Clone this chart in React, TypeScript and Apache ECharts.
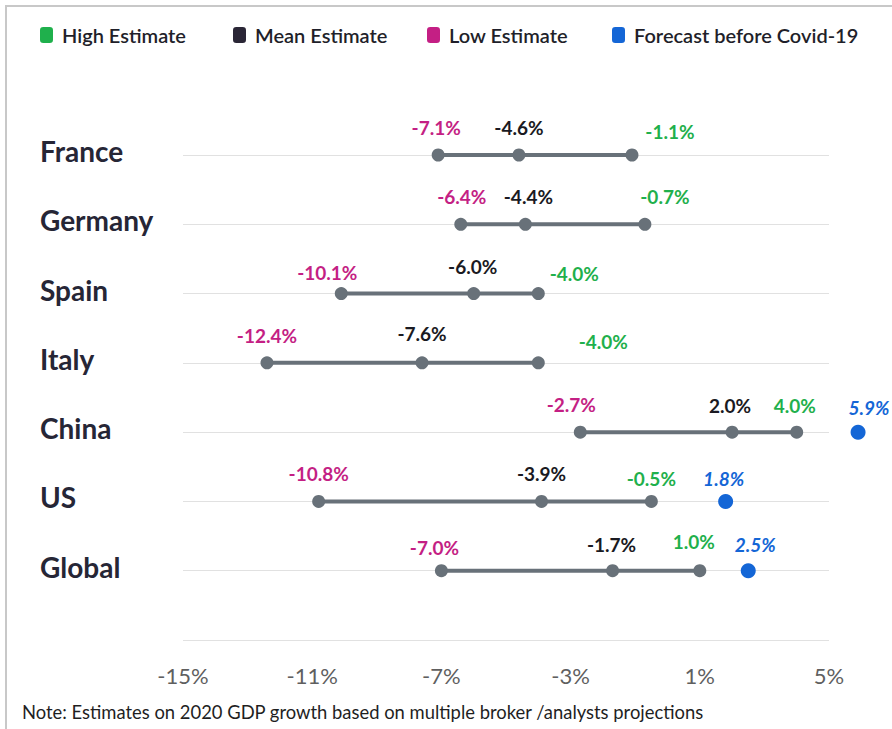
import React, { useEffect, useRef } from "react";
import * as echarts from "echarts";

const categories = ["", "Global", "US", "China", "Italy", "Spain", "Germany", "France"];
const lowValues: (number | null)[] = [null, -7.0, -10.8, -2.7, -12.4, -10.1, -6.4, -7.1];
const meanValues: (number | null)[] = [null, -1.7, -3.9, 2.0, -7.6, -6.0, -4.4, -4.6];
const highValues: (number | null)[] = [null, 1.0, -0.5, 4.0, -4.0, -4.0, -0.7, -1.1];
const forecastValues: (number | null)[] = [null, 2.5, 1.8, 5.9, null, null, null, null];
const xTicks = [-15, -11, -7, -3, 1, 5];
const seriesNames = ["High Estimate", "Mean Estimate", "Low Estimate", "Forecast before Covid-19"];
const note = "Note: Estimates on 2020 GDP growth based on multiple broker /analysts projections";

// label offsets (layout only)
const lowOffsets: number[][] = [[0, 0], [-7, -23], [0, -28], [-9, -28], [0, -27], [-14, -21], [1, -28], [-2, -28]];
const meanOffsets: number[][] = [[0, 0], [-1, -26], [0, -28], [-2, -27], [0, -29], [-1, -27], [3, -28], [0, -28]];
const highOffsets: number[][] = [[0, 0], [-6, -29], [0, -23], [-2, -27], [65, -21], [36, -20], [20, -28], [38, -24]];
const fcOffsets: number[][] = [[0, 0], [7, -26], [-2, -23], [11, -25], [0, 0], [0, 0], [0, 0], [0, 0]];
const legendLefts = [35, 228, 422, 607];

const FONT = "Lato, 'Open Sans', sans-serif";
const GRAY = "#687179";
const C_HIGH = "#1fb04c";
const C_MEAN = "#1a1a22";
const C_LOW = "#c41f84";
const C_FC = "#1466d6";
const legendColors = [C_HIGH, "#2a2636", C_LOW, C_FC];

function pointSeries(name: string, values: (number | null)[], offsets: number[][], color: string, dotColor: string, size: number, italic = false) {
  const data: any[] = [];
  values.forEach((v, i) => {
    if (v === null) return;
    data.push({
      value: [v, categories[i]],
      label: { offset: offsets[i] },
    });
  });
  return {
    name,
    type: "scatter",
    clip: false,
    symbol: "circle",
    symbolSize: size,
    z: 5,
    itemStyle: { color: dotColor, opacity: 1 },
    label: {
      show: true,
      position: "inside",
      align: "center",
      verticalAlign: "middle",
      formatter: (p: any) => p.value[0].toFixed(1) + "%",
      color,
      fontFamily: FONT,
      fontSize: 19,
      fontWeight: "bold",
      fontStyle: italic ? "italic" : "normal",
    },
    emphasis: { disabled: true },
    data,
  };
}

export default function App() {
  const ref = useRef<HTMLDivElement>(null);
  useEffect(() => {
    if (!ref.current) return;
    const chart = echarts.init(ref.current, null, { renderer: "svg" });
    const rangeData: any[] = [];
    categories.forEach((c, i) => {
      if (lowValues[i] !== null && highValues[i] !== null) rangeData.push([lowValues[i], highValues[i], c]);
    });
    chart.setOption({
      animation: false,
      backgroundColor: "#ffffff",
      textStyle: { fontFamily: FONT },
      legend: seriesNames.map((n, i) => ({
        left: legendLefts[i],
        top: 20,
        itemWidth: 13,
        itemHeight: 16,
        itemGap: 0,
        icon: "roundRect",
        selectedMode: false,
        textStyle: { fontFamily: FONT, fontSize: 20, fontWeight: 600, color: "#1f1f2a", padding: [0, 0, 0, 4] },
        data: [{ name: n, itemStyle: { color: legendColors[i] } }],
      })),
      grid: { left: 183, right: 63, top: 155, bottom: 89, containLabel: false },
      xAxis: {
        type: "value",
        min: -15,
        max: 5,
        axisLine: { show: false },
        axisTick: { show: false },
        splitLine: { show: false },
        axisLabel: {
          customValues: xTicks,
          formatter: (v: number) => v + "%",
          margin: 24,
          fontFamily: FONT,
          fontSize: 22,
          color: "#5f5f5f",
        },
      },
      yAxis: {
        type: "category",
        data: categories,
        boundaryGap: false,
        axisLine: { show: false },
        axisTick: { show: false },
        splitLine: { show: true, lineStyle: { color: "#e1e1e1", width: 1 } },
        axisLabel: {
          align: "left",
          verticalAlign: "bottom",
          lineHeight: 8,
          margin: 143,
          fontFamily: FONT,
          fontSize: 28,
          fontWeight: "bold",
          color: "#262636",
        },
      },
      graphic: [
        {
          type: "rect",
          shape: { x: 6, y: 6, width: 1000, height: 1000 },
          style: { fill: "none", stroke: "#c8c8c8", lineWidth: 2 },
          silent: true,
        },
        {
          type: "text",
          left: 22,
          top: 703,
          style: { text: note, fontFamily: FONT, fontSize: 18.4, fill: "#1f1f1f" },
        },
      ],
      series: [
        {
          name: "range",
          type: "custom",
          clip: false,
          z: 2,
          renderItem: (params: any, api: any) => {
            const a = api.coord([api.value(0), api.value(2)]);
            const b = api.coord([api.value(1), api.value(2)]);
            return {
              type: "line",
              shape: { x1: a[0], y1: a[1], x2: b[0], y2: b[1] },
              style: { stroke: GRAY, lineWidth: 4 },
            };
          },
          encode: { x: [0, 1], y: 2 },
          data: rangeData,
        },
        pointSeries(seriesNames[0], highValues, highOffsets, C_HIGH, GRAY, 13),
        pointSeries(seriesNames[1], meanValues, meanOffsets, C_MEAN, GRAY, 13),
        pointSeries(seriesNames[2], lowValues, lowOffsets, C_LOW, GRAY, 13),
        pointSeries(seriesNames[3], forecastValues, fcOffsets, C_FC, C_FC, 15, true),
      ],
    });
    return () => chart.dispose();
  }, []);
  return <div ref={ref} style={{ position: "fixed", left: 0, top: 0, width: 892, height: 729 }} />;
}
